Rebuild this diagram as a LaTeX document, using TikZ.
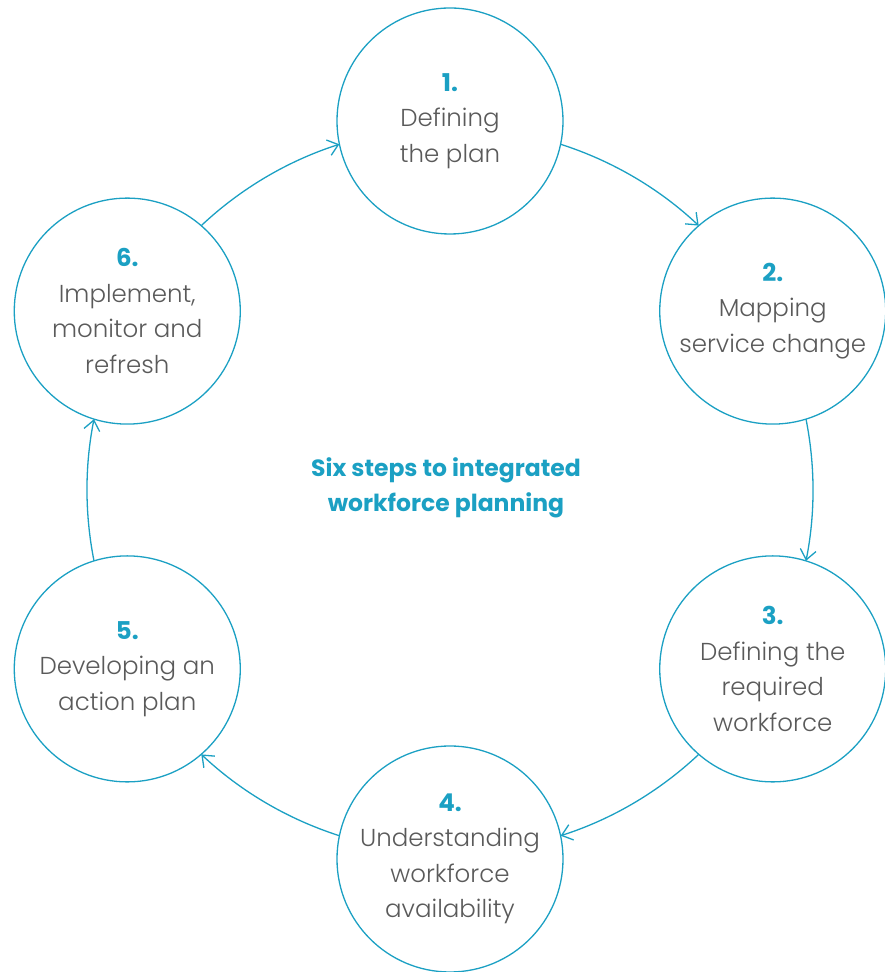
\documentclass[tikz,border=0pt]{standalone}
\usepackage{fontspec}
\setmainfont{Poppins}[UprightFont=* Light, BoldFont=* Bold]
\usetikzlibrary{arrows.meta,calc}
\definecolor{ringblue}{HTML}{1BA0C3}
\definecolor{txtgray}{HTML}{5A5A5A}
\newcommand\stagenum[1]{\textcolor{ringblue}{\bfseries #1}}
\begin{document}
\begin{tikzpicture}[x=1pt,y=1pt,
  stage/.style={circle, draw=ringblue, line width=1.3pt, minimum size=226pt,
    inner sep=0pt, align=center, text=txtgray,
    font=\fontsize{24.5}{35.5}\selectfont},
  conn/.style={draw=ringblue, line width=1.3pt,
    -{Straight Barb[length=10pt,width=16pt]}},
  titletext/.style={text=ringblue, align=center,
    font=\bfseries\fontsize{23.5}{35}\selectfont}]
\useasboundingbox (0,0) rectangle (885,972);
\coordinate (O) at (450,482);
\node[stage] (c1) at ($(O)+(90:369)$) {\stagenum{1.}\\Defining\\the plan};
\node[stage] (c2) at ($(O)+(29:369)$) {\stagenum{2.}\\Mapping\\service change};
\node[stage] (c3) at ($(O)+(-29:369)$) {\stagenum{3.}\\Defining the\\required\\workforce};
\node[stage] (c4) at ($(O)+(-90:369)$) {\stagenum{4.}\\Understanding\\workforce\\availability};
\node[stage] (c5) at ($(O)+(-151:369)$) {\stagenum{5.}\\Developing an\\action plan};
\node[stage] (c6) at ($(O)+(151:369)$) {\stagenum{6.}\\Implement,\\monitor and\\refresh};
\node[titletext] (title) at (446,484) {Six steps to integrated\\workforce planning};
% connectors along the ring
\coordinate (s12) at ($(O)+(72.25:363)$);
\coordinate (s23) at ($(O)+(11.25:363)$);
\coordinate (s34) at ($(O)+(-46.75:363)$);
\coordinate (s45) at ($(O)+(-107.75:363)$);
\coordinate (s56) at ($(O)+(-168.75:363)$);
\coordinate (s61) at ($(O)+(133.25:363)$);
\draw[conn] (s12) arc[start angle=72.25, end angle=46.75, radius=363];
\draw[conn] (s23) arc[start angle=11.25, end angle=-11.25, radius=363];
\draw[conn] (s34) arc[start angle=-46.75, end angle=-72.25, radius=363];
\draw[conn] (s45) arc[start angle=-107.75, end angle=-133.25, radius=363];
\draw[conn] (s56) arc[start angle=-168.75, end angle=-191.25, radius=363];
\draw[conn] (s61) arc[start angle=133.25, end angle=107.75, radius=363];
\end{tikzpicture}
\end{document}
